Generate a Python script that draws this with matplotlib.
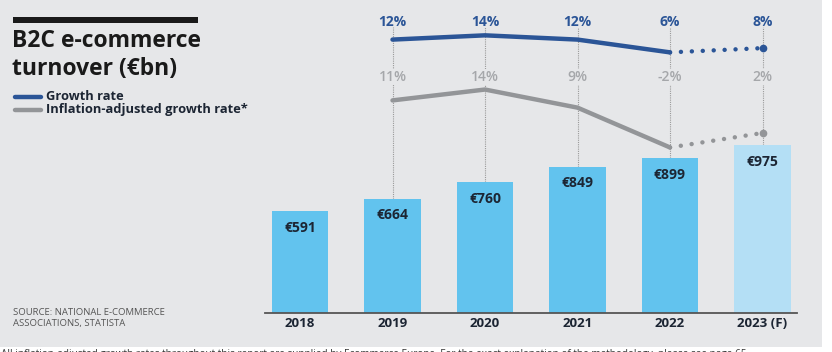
import numpy as np
import matplotlib
matplotlib.use("Agg")
import matplotlib.pyplot as plt
import matplotlib.transforms as mtransforms

plt.rcParams['font.family'] = ['Open Sans', 'DejaVu Sans']

# data
years = ['2018', '2019', '2020', '2021', '2022', '2023 (F)']
turnover = [591, 664, 760, 849, 899, 975]
growth_years = [1, 2, 3, 4, 5]          # index into years
growth = [12, 14, 12, 6, 8]
growth_real = [11, 14, 9, -2, 2]

BG = '#e6e7e9'
BAR = '#62c3ee'
BAR_F = '#b4dff5'
BLUE = '#2b5597'
GREY = '#939598'
GREY_TXT = '#a5a7aa'
DARK = '#1c2533'

W, H = 832, 352
fig = plt.figure(figsize=(W / 100, H / 100), dpi=100, facecolor='white')

# background panel + free text in pixel coords
bg = fig.add_axes([0, 0, 1, 1], zorder=0)
bg.set_xlim(0, W)
bg.set_ylim(H, 0)
bg.axis('off')
bg.add_patch(plt.Rectangle((0, 0), 822, 347, color=BG, lw=0))
bg.add_patch(plt.Rectangle((13, 17), 185, 6, color='#1a1a1a', lw=0))
bg.text(12, 29, 'B2C e-commerce\nturnover (€bn)', fontsize=16.5, fontweight='bold',
        color='#1a1a1a', va='top', ha='left', linespacing=1.2)
bg.plot([15, 41], [97, 97], color=BLUE, lw=3.2, solid_capstyle='round')
bg.plot([15, 41], [110, 110], color=GREY, lw=3.2, solid_capstyle='round')
bg.text(46, 97, 'Growth rate', fontsize=9.3, fontweight='bold', color=DARK, va='center')
bg.text(46, 110, 'Inflation-adjusted growth rate*', fontsize=9.3, fontweight='bold',
        color=DARK, va='center')
bg.text(13, 318, 'SOURCE: NATIONAL E-COMMERCE\nASSOCIATIONS, STATISTA', fontsize=6.8,
        color='#555555', va='center', linespacing=1.3)
bg.text(1, 348.5, 'All inflation-adjusted growth rates throughout this report are supplied by '
        'Ecommerce Europe. For the exact explanation of the methodology, please see page 65',
        fontsize=7.2, color='#333333', va='top', ha='left')

# main bar axes
x = np.arange(len(years))
left, right, bottom = 265, 797, 313
ax = fig.add_axes([left / W, 1 - bottom / H, (right - left) / W, bottom / H], zorder=1)
ax.patch.set_alpha(0)
x0 = (left - 300) / 92.5
x1 = (right - 300) / 92.5
ax.set_xlim(x0, x1)
ytop = bottom / 0.172
ax.set_ylim(0, ytop)
colors = [BAR] * (len(years) - 1) + [BAR_F]
ax.bar(x, turnover, width=0.616, color=colors, zorder=2)
for xi, v in zip(x, turnover):
    ax.text(xi, v - 16.5 / 0.172, '€%d' % v, ha='center', va='center', fontsize=10,
            fontweight='bold', color=DARK, zorder=3)

# dotted guide lines
for i in growth_years:
    ax.plot([x[i], x[i]], [turnover[i], ytop * (1 - 27 / bottom)], color='#9a9a9a',
            lw=0.8, ls=(0, (1, 1)), zorder=1)

for s in ['top', 'right', 'left']:
    ax.spines[s].set_visible(False)
ax.spines['bottom'].set_color('#555555')
ax.spines['bottom'].set_linewidth(1.3)
ax.set_yticks([])
ax.set_xticks(x)
ax.set_xticklabels(years, fontsize=9.5, fontweight='bold', color=DARK)
ax.tick_params(axis='x', length=0, pad=3)

# growth lines, each on its own scale
def line_axes(ylo, yhi):
    a = fig.add_axes(ax.get_position(), zorder=2, sharex=ax)
    a.patch.set_alpha(0)
    a.axis('off')
    a.set_ylim(ylo, yhi)
    return a

ab = line_axes(10.4 - 270 / 2.13, 10.4 + 43 / 2.13)
ag = line_axes(6.8 - 197.4 / 3.62, 6.8 + 115.6 / 3.62)

gx = [x[i] for i in growth_years]
for a, vals, c in [(ab, growth, BLUE), (ag, growth_real, GREY)]:
    a.plot(gx[:4], vals[:4], color=c, lw=3.2, solid_capstyle='round', solid_joinstyle='round')
    a.plot(gx[3:], vals[3:], color=c, lw=3.2, ls=(0, (0.01, 2.45)), dash_capstyle='round')
    a.plot(gx[-1], vals[-1], 'o', color=c, ms=4.5)

trans = mtransforms.blended_transform_factory(ax.transData, ax.transAxes)
for xi, g, r in zip(gx, growth, growth_real):
    ax.text(xi, 1 - 22 / bottom, '%d%%' % g, transform=trans, ha='center', va='center',
            fontsize=10, fontweight='bold', color=BLUE, zorder=5)
    ax.text(xi, 1 - 77 / bottom, '%d%%' % r, transform=trans, ha='center', va='center',
            fontsize=10, fontweight='semibold', color=GREY_TXT, zorder=5,
            bbox=dict(boxstyle='square,pad=0.1', fc=BG, ec='none'))

fig.savefig('out.png', dpi=100, facecolor='white')
